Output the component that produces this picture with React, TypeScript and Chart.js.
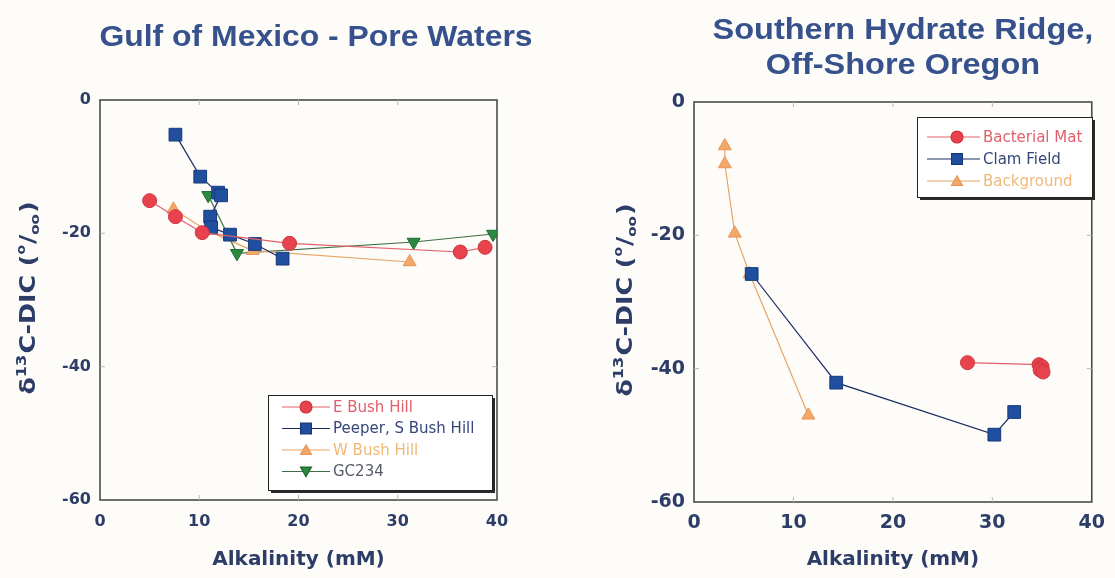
import React, { useEffect, useRef } from 'react';
import { Chart, registerables } from 'chart.js';
Chart.register(...registerables);

const FONT = '"Liberation Sans", Arial, Helvetica, sans-serif';
const WIDE = '"DejaVu Sans", Verdana, sans-serif';

// ---------- Data: Gulf of Mexico ----------
const eBushX = [5.0, 7.6, 10.3, 19.1, 36.3, 38.8];
const eBushY = [-15.1, -17.5, -19.9, -21.5, -22.8, -22.1];
const peeperX = [7.6, 10.1, 11.9, 12.2, 11.1, 11.2, 13.1, 15.6, 18.4];
const peeperY = [-5.2, -11.5, -13.9, -14.3, -17.5, -19.1, -20.2, -21.6, -23.8];
const wBushX = [7.4, 10.8, 15.4, 31.2];
const wBushY = [-16.4, -19.6, -22.6, -24.3];
const gcX = [10.9, 13.8, 31.6, 39.6];
const gcY = [-14.3, -23.0, -21.3, -20.1];

// ---------- Data: Southern Hydrate Ridge ----------
const matX = [27.5, 34.7, 35.0, 34.8, 35.1];
const matY = [-39.1, -39.4, -39.7, -40.2, -40.5];
const clamX = [5.8, 14.3, 30.2, 32.2];
const clamY = [-25.8, -42.1, -49.9, -46.5];
const bgX = [3.1, 3.1, 4.1, 5.6, 11.5];
const bgY = [-6.6, -9.3, -19.7, -25.8, -47.0];

// ---------- Axes / text ----------
const xMin = 0, xMax = 40, xStep = 10;
const yMin = -60, yMax = 0, yStep = 20;
const xTitle = 'Alkalinity (mM)';
// δ¹³C-DIC (°/oo) drawn in pieces: [text, kind]
const yTitleParts: [string, string][] = [
  ['δ', 'n'], ['13', 'sup'], ['C-DIC (', 'n'], ['o', 'deg'], ['/', 'n'], ['oo', 'sub'], [')', 'n'],
];
const leftTitle = ['Gulf of Mexico - Pore Waters'];
const rightTitle = ['Southern Hydrate Ridge,', 'Off-Shore Oregon'];
const leftLabels = ['E Bush Hill', 'Peeper, S Bush Hill', 'W Bush Hill', 'GC234'];
const rightLabels = ['Bacterial Mat', 'Clam Field', 'Background'];

const pts = (xs: number[], ys: number[]) => xs.map((x, i) => ({ x, y: ys[i] }));

const RED = { fill: '#e8434c', border: '#cf3440', line: '#e06068', text: '#e0606c' };
const BLUE = { fill: '#1f4f9e', border: '#17397a', line: '#1c2d63', text: '#35477a' };
const ORANGE = { fill: '#f2a868', border: '#e9955a', line: '#e9a465', text: '#f0b878' };
const GREEN = { fill: '#2b8a3f', border: '#1f6a2f', line: '#3f6e46', text: '#555c66' };
const TICK_COLOR = '#2d3d68';
const TITLE_COLOR = '#36518c';

function drawMarker(ctx: CanvasRenderingContext2D, style: string, x: number, y: number, r: number, rot: number) {
  ctx.beginPath();
  if (style === 'circle') {
    ctx.arc(x, y, r, 0, Math.PI * 2);
  } else if (style === 'rect') {
    const s = r * Math.SQRT1_2;
    ctx.rect(x - s, y - s, 2 * s, 2 * s);
  } else {
    const a = (rot * Math.PI) / 180;
    for (let k = 0; k < 3; k++) {
      const ang = a - Math.PI / 2 + (k * 2 * Math.PI) / 3;
      const px = x + r * Math.cos(ang);
      const py = y + r * Math.sin(ang) + (rot === 180 ? -r * 0.2 : r * 0.2);
      if (k === 0) ctx.moveTo(px, py); else ctx.lineTo(px, py);
    }
    ctx.closePath();
  }
  ctx.fill();
  ctx.stroke();
}

const framePlugin = {
  id: 'frame',
  beforeDatasetsDraw(chart: any) {
    const { ctx, chartArea: a, scales } = chart;
    ctx.save();
    ctx.strokeStyle = '#4a4a4a';
    ctx.lineWidth = 1.6;
    ctx.strokeRect(a.left, a.top, a.right - a.left, a.bottom - a.top);
    ctx.strokeStyle = '#b8b8b8';
    ctx.lineWidth = 1;
    for (let v = xMin + xStep; v < xMax; v += xStep) {
      const px = scales.x.getPixelForValue(v);
      ctx.beginPath();
      ctx.moveTo(px, a.top); ctx.lineTo(px, a.top + 5);
      ctx.moveTo(px, a.bottom); ctx.lineTo(px, a.bottom - 5);
      ctx.stroke();
    }
    for (let v = yMin + yStep; v < yMax; v += yStep) {
      const py = scales.y.getPixelForValue(v);
      ctx.beginPath();
      ctx.moveTo(a.left, py); ctx.lineTo(a.left + 5, py);
      ctx.moveTo(a.right, py); ctx.lineTo(a.right - 5, py);
      ctx.stroke();
    }
    ctx.restore();
  },
};

const decorPlugin = {
  id: 'decor',
  afterDraw(chart: any, _args: any, opts: any) {
    const { ctx, chartArea: a } = chart;
    ctx.save();
    // chart titles
    ctx.fillStyle = TITLE_COLOR;
    ctx.font = `bold 29px ${FONT}`;
    ctx.textAlign = 'center';
    ctx.textBaseline = 'middle';
    opts.title.lines.forEach((t: string, i: number) => {
      ctx.save();
      ctx.translate(opts.title.x, opts.title.y + i * opts.title.spacing);
      ctx.scale(opts.title.sx, 1);
      ctx.fillText(t, 0, 0);
      ctx.restore();
    });

    // y axis title with super/subscripts
    ctx.save();
    ctx.translate(opts.yLabelX, (a.top + a.bottom) / 2 - 2);
    ctx.rotate(-Math.PI / 2);
    ctx.scale(1.15, 1);
    ctx.fillStyle = TICK_COLOR;
    ctx.textAlign = 'left';
    ctx.textBaseline = 'alphabetic';
    const spec: any = {
      n: { size: 22, dy: 0 },
      sup: { size: 14, dy: -9 },
      deg: { size: 12, dy: -10 },
      sub: { size: 13, dy: 4 },
    };
    let total = 0;
    yTitleParts.forEach(([t, k]) => {
      ctx.font = `bold ${spec[k].size}px ${WIDE}`;
      total += ctx.measureText(t).width + (k === 'n' ? 0 : 1);
    });
    let cx = -total / 2;
    yTitleParts.forEach(([t, k]) => {
      ctx.font = `bold ${spec[k].size}px ${WIDE}`;
      ctx.fillText(t, cx, 8 + spec[k].dy);
      cx += ctx.measureText(t).width + (k === 'n' ? 0 : 1);
    });
    ctx.restore();

    // legend
    const L = opts.legend;
    ctx.fillStyle = '#2a2a2a';
    ctx.fillRect(L.x + 3, L.y + 3, L.w, L.h);
    ctx.fillStyle = '#ffffff';
    ctx.fillRect(L.x, L.y, L.w, L.h);
    ctx.strokeStyle = '#222';
    ctx.lineWidth = 1;
    ctx.strokeRect(L.x + 0.5, L.y + 0.5, L.w, L.h);
    chart.data.datasets.forEach((ds: any, i: number) => {
      const y = L.y + L.first + i * L.gap;
      ctx.strokeStyle = ds.borderColor;
      ctx.lineWidth = 1.2;
      ctx.beginPath();
      ctx.moveTo(L.x + L.lineX1, y);
      ctx.lineTo(L.x + L.lineX2, y);
      ctx.stroke();
      ctx.fillStyle = ds.pointBackgroundColor;
      ctx.strokeStyle = ds.pointBorderColor;
      drawMarker(ctx, ds.pointStyle, L.x + L.markX, y, ds.pointRadius * 0.85, ds.pointRotation || 0);
      ctx.fillStyle = ds.legendTextColor;
      ctx.font = `${L.font}px ${WIDE}`;
      ctx.textAlign = 'left';
      ctx.textBaseline = 'middle';
      ctx.fillText(ds.label, L.x + L.textX, y + 1);
    });
    ctx.restore();
  },
};

function dataset(label: string, data: any, c: any, style: string, radius: number, rotation = 0) {
  return {
    label,
    data,
    showLine: true,
    borderColor: c.line,
    borderWidth: 1.2,
    backgroundColor: c.fill,
    pointBackgroundColor: c.fill,
    pointBorderColor: c.border,
    pointBorderWidth: 1,
    pointStyle: style,
    pointRadius: radius,
    pointRotation: rotation,
    legendTextColor: c.text,
    tension: 0,
  };
}

function makeConfig(datasets: any[], geo: any, decor: any) {
  return {
    type: 'scatter',
    data: { datasets },
    plugins: [framePlugin, decorPlugin],
    options: {
      animation: false,
      responsive: false,
      events: [],
      layout: { padding: { left: 0, right: geo.padRight, top: geo.padTop, bottom: 0 } },
      plugins: {
        legend: { display: false },
        title: { display: false },
        tooltip: { enabled: false },
        decor,
      },
      scales: {
        x: {
          type: 'linear',
          min: xMin,
          max: xMax,
          afterFit: (s: any) => { s.height = geo.xHeight; },
          grid: { display: false, drawTicks: false },
          border: { display: false },
          ticks: {
            stepSize: xStep,
            padding: geo.xTickPad,
            color: TICK_COLOR,
            font: { family: WIDE, size: geo.tickSize, weight: 'bold' },
            maxRotation: 0,
            autoSkip: false,
          },
          title: {
            display: true,
            text: xTitle,
            color: TICK_COLOR,
            font: { family: WIDE, size: 20, weight: 'bold' },
            padding: { top: 0, bottom: 6 },
          },
        },
        y: {
          type: 'linear',
          min: yMin,
          max: yMax,
          afterFit: (s: any) => { s.width = geo.yWidth; },
          grid: { display: false, drawTicks: false },
          border: { display: false },
          ticks: {
            stepSize: yStep,
            padding: 9,
            color: TICK_COLOR,
            font: { family: WIDE, size: geo.tickSize, weight: 'bold' },
            autoSkip: false,
          },
          title: { display: false },
        },
      },
    },
  };
}

function ChartCanvas({ config, width, height, left }: any) {
  const ref = useRef<HTMLCanvasElement | null>(null);
  useEffect(() => {
    if (!ref.current) return;
    const chart = new Chart(ref.current, config());
    return () => chart.destroy();
  }, []);
  return (
    <canvas
      ref={ref}
      width={width}
      height={height}
      style={{ position: 'absolute', left, top: 0, width, height }}
    />
  );
}

export default function App() {
  const leftConfig = () =>
    makeConfig(
      [
        dataset(leftLabels[0], pts(eBushX, eBushY), RED, 'circle', 7),
        dataset(leftLabels[1], pts(peeperX, peeperY), BLUE, 'rect', 9),
        dataset(leftLabels[2], pts(wBushX, wBushY), ORANGE, 'triangle', 7.5),
        dataset(leftLabels[3], pts(gcX, gcY), GREEN, 'triangle', 7.5, 180),
      ],
      { padRight: 60, padTop: 100, xHeight: 78, yWidth: 100, tickSize: 16, xTickPad: 12 },
      {
        title: { lines: leftTitle, x: 316, y: 38, spacing: 35, sx: 1.1 },
        yLabelX: 27,
        legend: { x: 268, y: 395, w: 224, h: 95, first: 12, gap: 21.5, lineX1: 14, lineX2: 62, markX: 38, textX: 65, font: 15 },
      }
    );
  const rightConfig = () =>
    makeConfig(
      [
        dataset(rightLabels[0], pts(matX, matY), RED, 'circle', 7),
        dataset(rightLabels[1], pts(clamX, clamY), BLUE, 'rect', 9),
        dataset(rightLabels[2], pts(bgX, bgY), ORANGE, 'triangle', 7.5),
      ],
      { padRight: 21, padTop: 102, xHeight: 76, yWidth: 137, tickSize: 19, xTickPad: 10 },
      {
        title: { lines: rightTitle, x: 346, y: 31, spacing: 35, sx: 1.12 },
        yLabelX: 67,
        legend: { x: 360, y: 117, w: 175, h: 80, first: 20, gap: 22, lineX1: 10, lineX2: 63, markX: 40, textX: 66, font: 15 },
      }
    );
  return (
    <div style={{ position: 'absolute', left: 0, top: 0, width: 1115, height: 578, background: '#fdfcf9' }}>
      <ChartCanvas config={leftConfig} width={557} height={578} left={0} />
      <ChartCanvas config={rightConfig} width={558} height={578} left={557} />
    </div>
  );
}
